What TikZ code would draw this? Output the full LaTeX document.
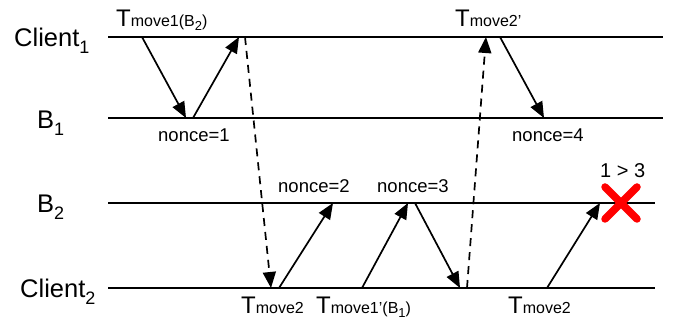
\documentclass[tikz,border=0pt]{standalone}
\usepackage{fontspec}
\setmainfont{Liberation Sans}
\usetikzlibrary{arrows.meta}
\newcommand\fsz[1]{\fontsize{#1}{#1}\selectfont}
\newcommand\lowsub[2]{\raisebox{-#1pt}{#2}}
\begin{document}
\begin{tikzpicture}[x=1pt,y=-1pt,
  lane/.style={line width=1.7pt},
  msg/.style={line width=1.7pt,-{Triangle[length=16pt,width=13pt]}},
  dmsg/.style={msg,dash pattern=on 8pt off 6pt},
  who/.style={anchor=base west,inner sep=0pt,font=\fsz{25.5}},
  tlab/.style={anchor=base west,inner sep=0pt,font=\fsz{24}},
  nlab/.style={anchor=base west,inner sep=0pt,font=\fsz{18.5}},
  cross/.style={line width=7.5pt,line cap=round,draw=red}]
\useasboundingbox (0,0) rectangle (673,320);
% lanes
\coordinate (c1l) at (108,37); \coordinate (c1r) at (663,37);
\coordinate (b1l) at (108,118); \coordinate (b1r) at (663,118);
\coordinate (b2l) at (108,203); \coordinate (b2r) at (655,203);
\coordinate (c2l) at (108,288); \coordinate (c2r) at (655,288);
\draw[lane] (c1l) -- (c1r);
\draw[lane] (b1l) -- (b1r);
\draw[lane] (b2l) -- (b2r);
\draw[lane] (c2l) -- (c2r);
% lane labels
\node[who] (lc1) at (14,47) {Client\lowsub{7}{\fsz{18}1}};
\node[who] (lb1) at (37,129) {B\lowsub{7}{\fsz{18}1}};
\node[who] (lb2) at (37,213) {B\lowsub{7}{\fsz{18}2}};
\node[who] (lc2) at (20,298) {Client\lowsub{7}{\fsz{18}2}};
% message end points
\coordinate (m1s) at (142,37);  \coordinate (m1e) at (186,118);
\coordinate (m2s) at (193,118); \coordinate (m2e) at (239,37);
\coordinate (m3s) at (245,37);  \coordinate (m3e) at (271,288);
\coordinate (m4s) at (279,288); \coordinate (m4e) at (333,203);
\coordinate (m5s) at (362,288); \coordinate (m5e) at (408,203);
\coordinate (m6s) at (415,203); \coordinate (m6e) at (460,288);
\coordinate (m7s) at (467,288); \coordinate (m7e) at (486,37);
\coordinate (m8s) at (500,37);  \coordinate (m8e) at (544,118);
\coordinate (m9s) at (547,288); \coordinate (m9e) at (600,203);
\draw[msg] (m1s) -- (m1e);
\draw[msg] (m2s) -- (m2e);
\draw[dmsg] (m3s) -- (m3e);
\draw[msg] (m4s) -- (m4e);
\draw[msg] (m5s) -- (m5e);
\draw[msg] (m6s) -- (m6e);
\draw[dmsg] (m7s) -- (m7e);
\draw[msg] (m8s) -- (m8e);
\draw[msg] (m9s) -- (m9e);
% transaction labels
\node[tlab] (t1) at (116,27) {T{\fsz{16}move1(B\lowsub{4}{\fsz{13}2})}};
\node[tlab] (t2) at (455,27) {T{\fsz{16}move2'}};
\node[tlab] (t3) at (241,314) {T{\fsz{16}move2}};
\node[tlab] (t4) at (316,314) {T{\fsz{16}move1'(B\lowsub{4}{\fsz{13}1})}};
\node[tlab] (t5) at (508,314) {T{\fsz{16}move2}};
% nonce labels
\node[nlab] (n1) at (158,142) {nonce=1};
\node[nlab] (n4) at (512,142) {nonce=4};
\node[nlab] (n2) at (278,193) {nonce=2};
\node[nlab] (n3) at (377,193) {nonce=3};
\node[nlab,font=\fsz{20}] (cmp) at (600,178) {1 > 3};
% rejection cross
\coordinate (xa) at (605,187); \coordinate (xb) at (637,219);
\coordinate (xc) at (605,219); \coordinate (xd) at (637,187);
\draw[cross] (xa) -- (xb);
\draw[cross] (xc) -- (xd);
\end{tikzpicture}
\end{document}
